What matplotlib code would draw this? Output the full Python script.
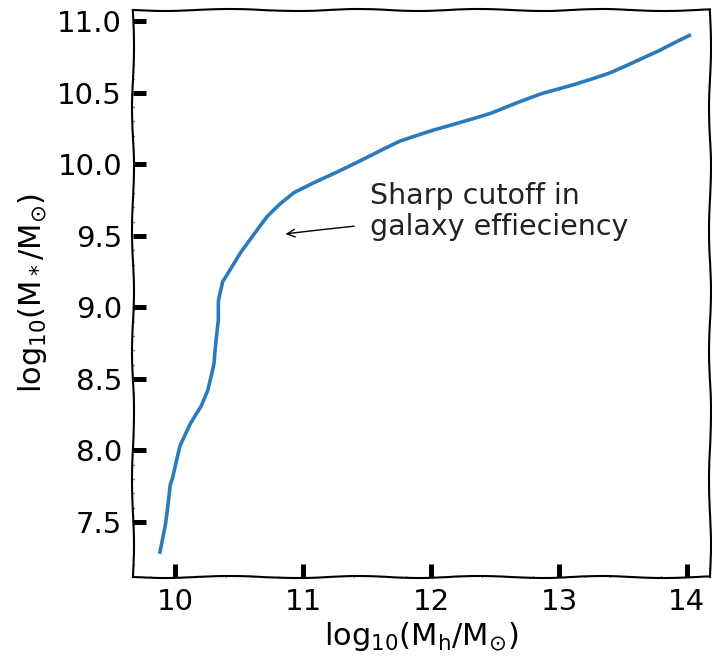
import numpy as np
import matplotlib
matplotlib.use('Agg')
import matplotlib.pyplot as plt
from matplotlib.ticker import MultipleLocator

# halo mass vs stellar mass
log_mh = [9.88, 9.92, 9.96, 9.98, 10.04, 10.12, 10.20, 10.25, 10.30, 10.31,
          10.34, 10.34, 10.37, 10.41, 10.51, 10.62, 10.72, 10.82, 10.93,
          11.08, 11.24, 11.51, 11.76, 12.02, 12.24, 12.47, 12.86, 13.12,
          13.39, 13.55, 13.78, 14.02]
log_ms = [7.29, 7.49, 7.76, 7.81, 8.03, 8.19, 8.31, 8.42, 8.61, 8.70,
          8.91, 9.05, 9.18, 9.24, 9.39, 9.52, 9.635, 9.72, 9.80,
          9.87, 9.94, 10.055, 10.16, 10.24, 10.30, 10.36, 10.49, 10.56,
          10.64, 10.70, 10.79, 10.90]

note = 'Sharp cutoff in\ngalaxy effieciency'

plt.xkcd(scale=1, length=140, randomness=2)
plt.rcParams['font.family'] = ['DejaVu Sans']
plt.rcParams['mathtext.default'] = 'regular'
plt.rcParams['path.effects'] = []

fig = plt.figure(figsize=(7.12, 6.58), dpi=100)
ax = fig.add_axes([0.187, 0.123, 0.81, 0.862])

line, = ax.plot(log_mh, log_ms, color='#2b7bba', lw=2.6)
line.set_sketch_params(0.5, 150, 2)

ax.set_xlim(9.67, 14.18)
ax.set_ylim(7.115, 11.08)
ax.xaxis.set_major_locator(MultipleLocator(1))
ax.yaxis.set_major_locator(MultipleLocator(0.5))
ax.xaxis.set_minor_locator(MultipleLocator(0.2))
ax.yaxis.set_minor_locator(MultipleLocator(0.1))
ax.tick_params(which='major', direction='in', length=9.5, width=3.6,
               labelsize=21, pad=8)
ax.tick_params(which='minor', direction='in', length=1, width=1)
ax.tick_params(top=False, right=False, which='both')

ax.set_xlabel(r'log$_{10}$(M$_\mathrm{h}$/M$_{\odot}$)', fontsize=22, labelpad=3)
ax.set_ylabel(r'log$_{10}$(M$_*$/M$_{\odot}$)', fontsize=22, labelpad=6)

ann = ax.annotate('', xy=(10.84, 9.51), xytext=(11.42, 9.57),
                  arrowprops=dict(arrowstyle='->', color='black', lw=1.0))
ann.arrow_patch.set_sketch_params(0.3, 200, 1)
ax.text(11.52, 9.67, note, fontsize=20.5, ha='left', va='center',
        linespacing=1.1, color='#222222')

fig.savefig('out.png', dpi=100)
